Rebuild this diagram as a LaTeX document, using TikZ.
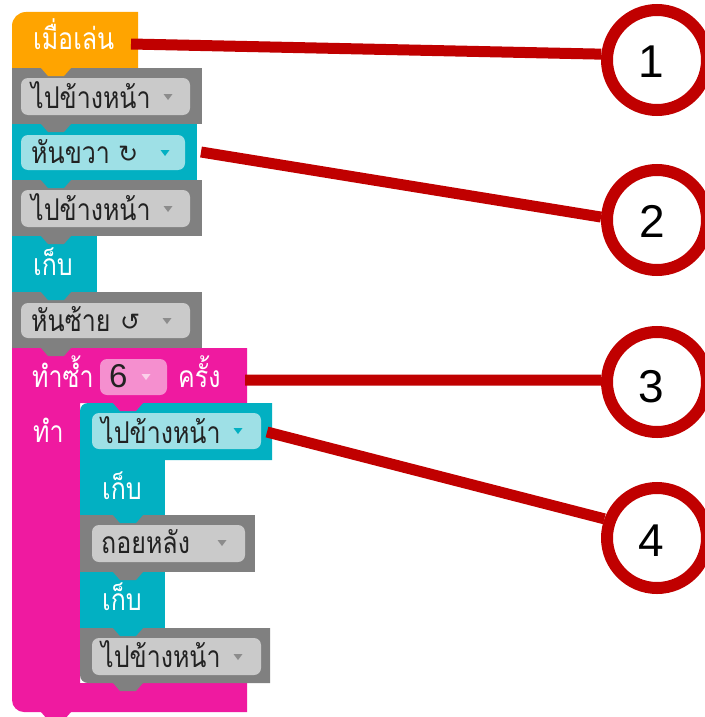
\documentclass[tikz,border=0pt]{standalone}
\usepackage{fontspec}
\setmainfont{Liberation Sans}
\newfontfamily\thaif[Script=Thai]{Loma}
\newfontfamily\symf{DejaVu Sans}
\definecolor{orb}{HTML}{FFA400}
\definecolor{grb}{HTML}{808080}
\definecolor{grf}{HTML}{CACACA}
\definecolor{grt}{HTML}{8C8C8C}
\definecolor{tlb}{HTML}{02B0C2}
\definecolor{tlf}{HTML}{9EE0E6}
\definecolor{pkb}{HTML}{EF1AA0}
\definecolor{pkf}{HTML}{F58FCF}
\definecolor{pkt}{HTML}{FBD0EA}
\definecolor{redl}{HTML}{C00000}
\definecolor{txd}{HTML}{222222}
\pgfdeclarelayer{blocks}
\pgfdeclarelayer{lines}
\pgfsetlayers{blocks,lines,main}
\newcommand{\tht}[1]{\scalebox{1}[1.2]{#1}}
\tikzset{
  blk/.style={inner sep=0pt, outer sep=0pt, anchor=north west},
  fld/.style={rounded corners=7pt, inner sep=0pt, outer sep=0pt, anchor=north west},
  thl/.style={font=\thaif\fontsize{25}{25}\selectfont, inner sep=0pt, anchor=base west},
  wl/.style={thl, text=white},
  dl/.style={thl, text=txd},
  sym/.style={font=\symf\fontsize{24}{24}\selectfont, inner sep=0pt, anchor=base west, text=txd},
  redline/.style={draw=redl, line width=11pt},
  circ/.style={circle, draw=redl, fill=white, line width=12pt, minimum size=100pt, inner sep=0pt},
  num/.style={inner sep=0pt, font=\fontsize{46}{46}\selectfont, text=black},
}
\newcommand{\blktab}[3]{\fill[#1] (#2,#3) -- ++(30,0) -- ++(-7,8) -- ++(-16,0) -- cycle;}
\newcommand{\ddtri}[3]{\fill[#1] (#2,#3) ++(-4.5,-3) -- ++(9,0) -- ++(-4.5,6) -- cycle;}
\begin{document}
\begin{tikzpicture}[x=1pt,y=-1pt]
\useasboundingbox (0,0) rectangle (704,717);
\begin{pgfonlayer}{blocks}
\fill[white] (0,0) rectangle (704,717);
% pink C block
\fill[pkb] (12,348) -- (247,348) -- (247,403) -- (80,403) -- (80,683) -- (247,683) -- (247,712)
  -- (100,712) [rounded corners=12pt] -- (12,712) -- (12,600) [sharp corners] -- cycle;
% hat block
\fill[orb] (12,68) [rounded corners=14pt] -- (12,12) [sharp corners] -- (138,12) -- (138,68) -- cycle;
% outer stack
\node[blk, fill=grb, minimum width=190pt, minimum height=56pt] (g1) at (12,68) {};
\node[blk, fill=tlb, minimum width=185pt, minimum height=56pt] (t1) at (12,124) {};
\node[blk, fill=grb, minimum width=190pt, minimum height=56pt] (g2) at (12,180) {};
\node[blk, fill=tlb, minimum width=85pt, minimum height=56pt] (t2) at (12,236) {};
\node[blk, fill=grb, minimum width=190pt, minimum height=56pt] (g3) at (12,292) {};
% inner stack
\fill[tlb] (272,403) -- (272,460) -- (80,460) [rounded corners=8pt] -- (80,403) [sharp corners] -- cycle;
\node[blk, fill=tlb, minimum width=85pt, minimum height=55pt] (t4) at (80,460) {};
\node[blk, fill=grb, minimum width=175pt, minimum height=57pt] (g4) at (80,515) {};
\node[blk, fill=tlb, minimum width=85pt, minimum height=56pt] (t5) at (80,572) {};
\fill[grb] (80,628) -- (270,628) -- (270,683) [rounded corners=8pt] -- (80,683) [sharp corners] -- cycle;
% tabs
\blktab{orb}{41}{68}
\blktab{grb}{41}{124}
\blktab{tlb}{41}{180}
\blktab{grb}{41}{236}
\blktab{tlb}{41}{292}
\blktab{grb}{41}{348}
\blktab{pkb}{113}{403}
\blktab{tlb}{113}{515}
\blktab{grb}{113}{572}
\blktab{tlb}{113}{628}
\blktab{grb}{113}{683}
\blktab{pkb}{41}{712}
% fields
\node[fld, fill=grf, minimum width=169pt, minimum height=37pt] (f1) at (21,78) {};
\node[fld, fill=tlf, minimum width=164pt, minimum height=35pt] (f2) at (21,135) {};
\node[fld, fill=grf, minimum width=169pt, minimum height=37pt] (f3) at (21,190) {};
\node[fld, fill=grf, minimum width=169pt, minimum height=35pt] (f4) at (21,303) {};
\node[fld, fill=pkf, minimum width=67pt, minimum height=36pt] (f5) at (100,359) {};
\node[fld, fill=tlf, minimum width=169pt, minimum height=36pt] (f6) at (92,413) {};
\node[fld, fill=grf, minimum width=153pt, minimum height=37pt] (f7) at (92,525) {};
\node[fld, fill=grf, minimum width=169pt, minimum height=37pt] (f8) at (92,638) {};
% dropdown triangles
\ddtri{grt}{168}{97}
\ddtri{tlb}{165}{153}
\ddtri{grt}{168}{209}
\ddtri{grt}{167}{321}
\ddtri{pkt}{146}{377}
\ddtri{tlb}{238}{431}
\ddtri{grt}{222}{543}
\ddtri{grt}{238}{657}
% labels
\node[wl] (l1) at (33,50) {\tht{เมื่อเล่น}};
\node[dl] (l2) at (31,108) {\tht{ไปข้างหน้า}};
\node[dl] (l3) at (31,163) {\tht{หันขวา}};
\node[sym] (l3s) at (118,162) {↻};
\node[dl] (l4) at (31,220) {\tht{ไปข้างหน้า}};
\node[wl] (l5) at (33,275) {\tht{เก็บ}};
\node[dl] (l6) at (31,331) {\tht{หันซ้าย}};
\node[sym] (l6s) at (120,330) {↺};
\node[wl] (l7) at (32,387) {\tht{ทำซ้ำ}};
\node[inner sep=0pt, anchor=base west, text=txd, font=\fontsize{33}{33}\selectfont] (l7n) at (109,387) {6};
\node[wl] (l7b) at (178,387) {\tht{ครั้ง}};
\node[wl] (l8) at (33,442) {\tht{ทำ}};
\node[dl] (l9) at (101,443) {\tht{ไปข้างหน้า}};
\node[wl] (l10) at (102,499) {\tht{เก็บ}};
\node[dl] (l11) at (101,553) {\tht{ถอยหลัง}};
\node[wl] (l12) at (102,610) {\tht{เก็บ}};
\node[dl] (l13) at (101,667) {\tht{ไปข้างหน้า}};
\end{pgfonlayer}
% callouts
\node[circ] (c1) at (657,60) {};
\node[circ] (c2) at (657,220) {};
\node[circ] (c3) at (657,382) {};
\node[circ] (c4) at (657,538) {};
\node[num] (n1) at (651,62) {1};
\node[num] (n2) at (652,221) {2};
\node[num] (n3) at (651,387) {3};
\node[num] (n4) at (651,541) {4};
\coordinate (s1) at (131,44);
\coordinate (s2) at (201,152);
\coordinate (s3) at (245,380);
\coordinate (s4) at (267,432);
\begin{pgfonlayer}{lines}
\draw[redline] (s1) -- (c1.174);
\draw[redline] (s2) -- (c2.177);
\draw[redline] (s3) -- (c3.178);
\draw[redline] (s4) -- (c4.160);
\end{pgfonlayer}
\end{tikzpicture}
\end{document}
